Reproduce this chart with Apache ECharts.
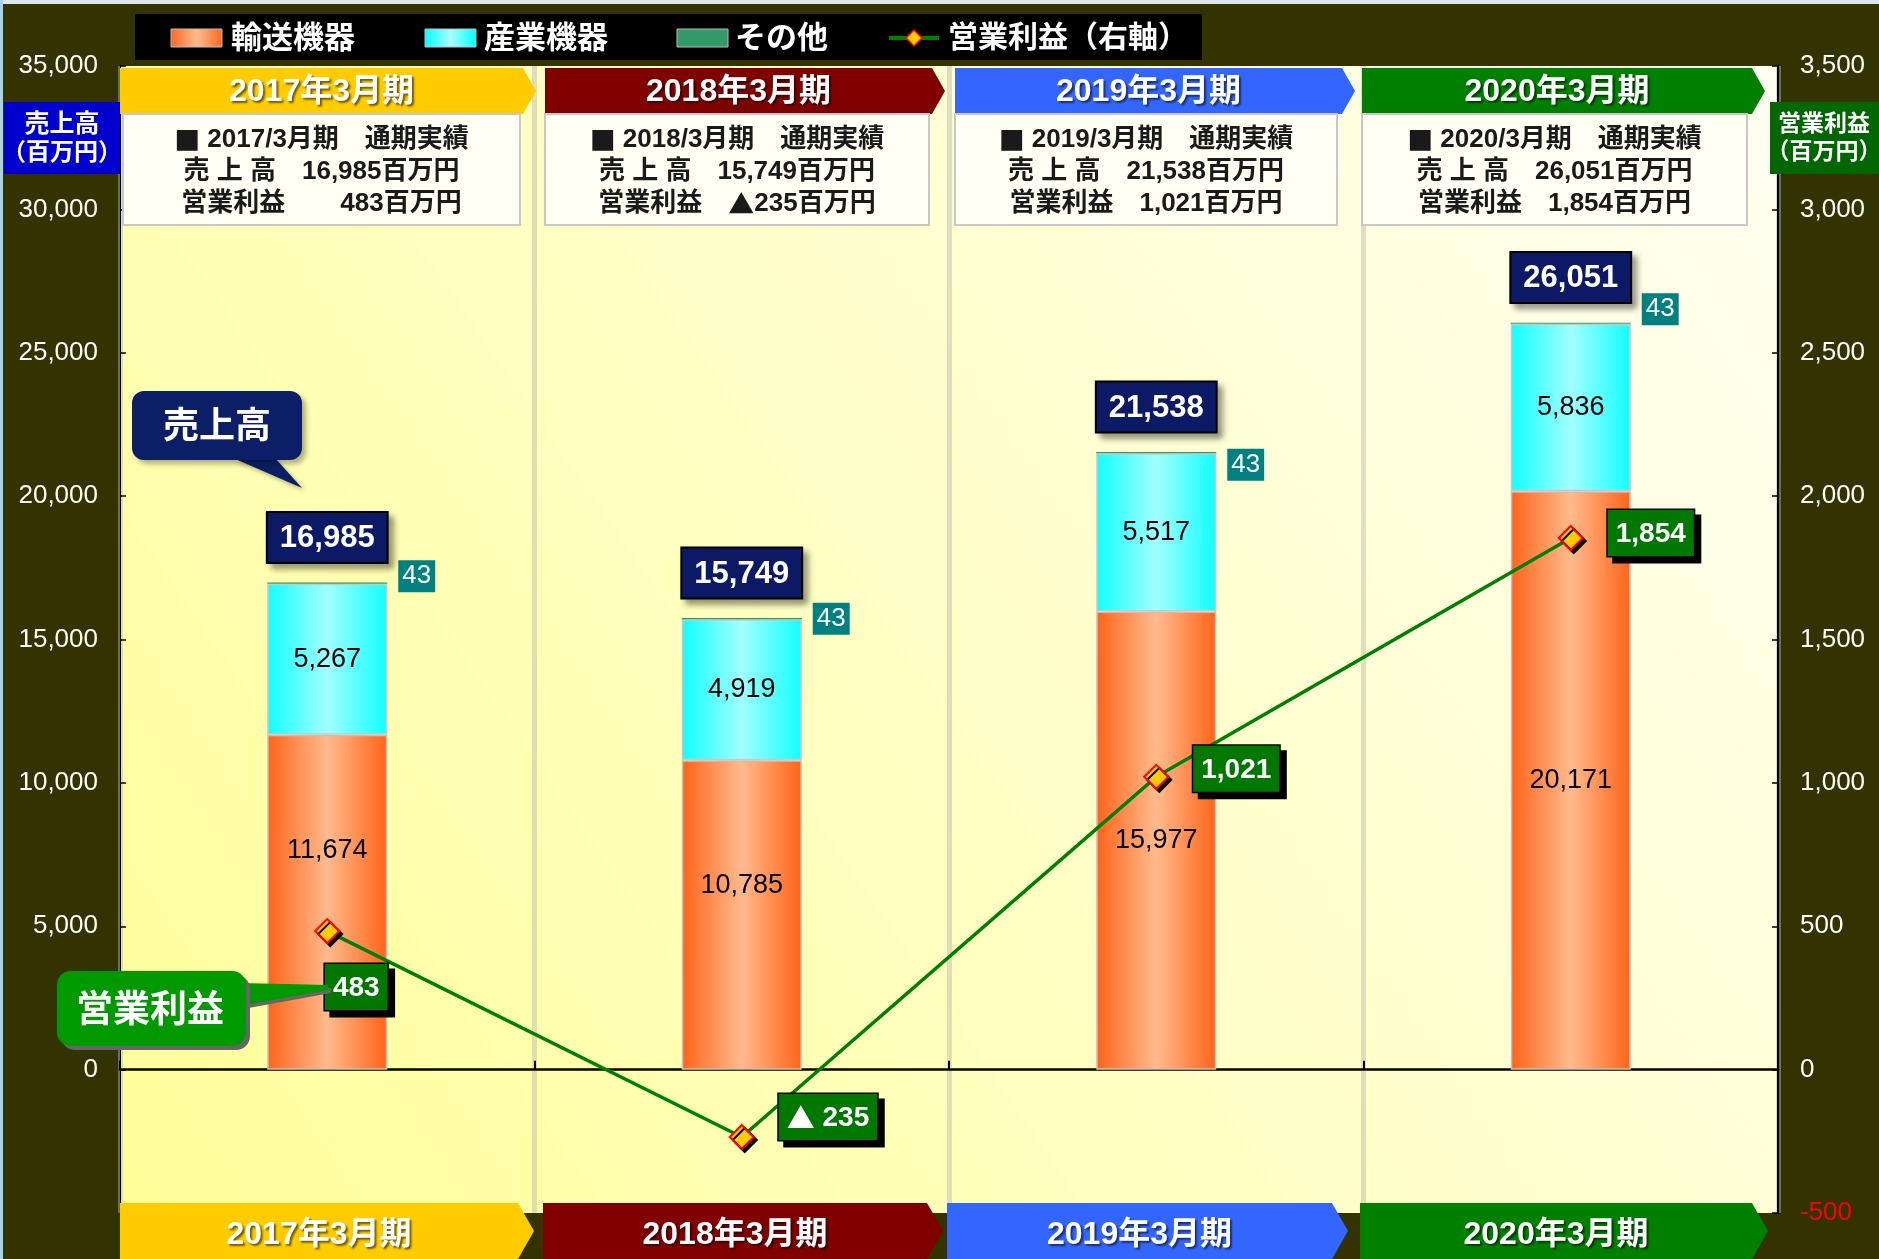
<!DOCTYPE html>
<html>
<head>
<meta charset="utf-8">
<script src="https://cdn.jsdelivr.net/npm/echarts@6/dist/echarts.min.js"></script>
<style>
html,body{margin:0;padding:0;background:#333300;}
#chart{width:1879px;height:1259px;}
</style>
</head>
<body>
<div id="chart"></div>
<script>
// ---- data ----
const categories = ['2017年3月期', '2018年3月期', '2019年3月期', '2020年3月期'];
const periodLabels = ['2017/3月期', '2018/3月期', '2019/3月期', '2020/3月期'];
const transport = [11674, 10785, 15977, 20171];   // 輸送機器
const industrial = [5267, 4919, 5517, 5836];      // 産業機器
const others = [43, 43, 43, 43];                  // その他
const totals = [16985, 15749, 21538, 26051];      // 売上高
const profit = [483, -235, 1021, 1854];           // 営業利益
const leftTicks = { min: -5000, max: 35000, interval: 5000 };
const rightTicks = { min: -500, max: 3500, interval: 500 };

// ---- layout / style (not data) ----
const bannerColors = ['#ffcc00', '#800000', '#3366ff', '#008000'];
const topBanners = [[120, 536], [545, 945], [955, 1355], [1362, 1765]];
const bottomBanners = [[120, 534], [543, 943], [947, 1348], [1360, 1768]];
const infoBoxes = [[123, 520], [545, 929], [955, 1337], [1362, 1747]];
const transportLabelOffsets = [[0, -52], [0, -29], [0, 0], [0, 0]];
const otherLabelOffsets = [[0, -7], [0, 0], [0, 12], [0, -14]];
const FONT = '"Liberation Sans", Arial, "Noto Sans CJK JP", sans-serif';
const CJK = '"Noto Sans CJK JP", sans-serif';

const fmt = v => v.toLocaleString('en-US');

const chart = echarts.init(document.getElementById('chart'), null, { renderer: 'canvas' });

const graphics = [];
// outer frame lines
graphics.push({ type: 'rect', shape: { x: 0, y: 0, width: 1879, height: 4 }, style: { fill: '#dfe6ea' }, z: 100 });
graphics.push({ type: 'rect', shape: { x: 0, y: 0, width: 3, height: 1259 }, style: { fill: '#a9d2ea' }, z: 100 });

function chevron(x0, x1, y0, y1, tipY, cut) {
  return [[x0, y0], [x1 - cut, y0], [x1, tipY], [x1 - cut, y1], [x0, y1]];
}

function txt(text, x, y, size, color, weight, extra) {
  return {
    type: 'text', z: 120,
    style: Object.assign({
      text: text, x: x, y: y, fill: color, fontSize: size, fontWeight: weight || 'bold',
      fontFamily: FONT, align: 'center', verticalAlign: 'middle'
    }, extra || {})
  };
}
const symRich = size => ({ s: { fontFamily: CJK, fontSize: size, fontWeight: 'bold', fill: '#1a1a1a' } });

// top & bottom banners, info boxes
categories.forEach((c, i) => {
  const [tx0, tx1] = topBanners[i];
  graphics.push({ type: 'polygon', z: 110, shape: { points: chevron(tx0, tx1, 68, 114, 91, 13) }, style: { fill: bannerColors[i] } });
  graphics.push(txt(c, (tx0 + tx1 - 13) / 2, 92, 32, '#fff', 'bold', { textShadowColor: 'rgba(0,0,0,0.55)', textShadowOffsetX: 2, textShadowOffsetY: 2, textShadowBlur: 2 }));

  const [bx0, bx1] = bottomBanners[i];
  graphics.push({ type: 'polygon', z: 110, shape: { points: chevron(bx0, bx1, 1203, 1259, 1231, 16) }, style: { fill: bannerColors[i] } });
  graphics.push(txt(c, (bx0 + bx1 - 16) / 2, 1235, 32, '#fff', 'bold', { textShadowColor: 'rgba(0,0,0,0.55)', textShadowOffsetX: 2, textShadowOffsetY: 2, textShadowBlur: 2 }));

  const [ix0, ix1] = infoBoxes[i];
  graphics.push({ type: 'rect', z: 112, shape: { x: ix0, y: 114, width: ix1 - ix0, height: 111 },
    style: { fill: '#fffff4', stroke: '#c8c8c8', lineWidth: 2 } });
  const cx = (ix0 + ix1) / 2;
  graphics.push(txt('{s|■} ' + periodLabels[i] + '\u3000通期実績', cx, 140, 26, '#1a1a1a', 'bold', { rich: symRich(26) }));
  graphics.push(txt('売 上 高\u3000' + fmt(totals[i]) + '百万円', cx, 172, 26, '#1a1a1a'));
  const p = profit[i];
  const pStr = p < 0 ? '{s|▲}' + fmt(-p) : '\u2007'.repeat(Math.max(0, 5 - fmt(p).length)) + fmt(p);
  graphics.push(txt('営業利益\u3000' + pStr + '百万円', cx, 204, 26, '#1a1a1a', 'bold', { rich: symRich(26) }));
});

// axis title boxes
graphics.push({ type: 'rect', z: 115, shape: { x: 4, y: 102, width: 116, height: 72 }, style: { fill: '#0000cc' } });
graphics.push(txt('売上高', 62, 125, 25, '#fff'));
graphics.push(txt('（百万円）', 62, 153, 24, '#fff'));
graphics.push({ type: 'rect', z: 115, shape: { x: 1770, y: 102, width: 109, height: 72 }, style: { fill: '#006600' } });
graphics.push(txt('営業利益', 1824, 125, 23, '#fff'));
graphics.push(txt('（百万円）', 1824, 153, 23, '#fff'));

// legend
graphics.push({ type: 'rect', z: 110, shape: { x: 135, y: 14, width: 1067, height: 46 }, style: { fill: '#000' } });
graphics.push({ type: 'rect', z: 111, shape: { x: 171, y: 29, width: 51, height: 18 },
  style: { stroke: '#bbb', lineWidth: 1, fill: new echarts.graphic.LinearGradient(0, 0, 1, 0, [{ offset: 0, color: '#ff6622' }, { offset: 0.5, color: '#ffbb8c' }, { offset: 1, color: '#ff6622' }]) } });
graphics.push(txt('輸送機器', 231, 39, 31, '#fff', 'bold', { align: 'left' }));
graphics.push({ type: 'rect', z: 111, shape: { x: 425, y: 29, width: 51, height: 18 },
  style: { stroke: '#bbb', lineWidth: 1, fill: new echarts.graphic.LinearGradient(0, 0, 1, 0, [{ offset: 0, color: '#00ffff' }, { offset: 0.5, color: '#aaffff' }, { offset: 1, color: '#00ffff' }]) } });
graphics.push(txt('産業機器', 484, 39, 31, '#fff', 'bold', { align: 'left' }));
graphics.push({ type: 'rect', z: 111, shape: { x: 677, y: 29, width: 51, height: 18 }, style: { fill: '#339966', stroke: '#bbb', lineWidth: 1 } });
graphics.push(txt('その他', 735, 39, 31, '#fff', 'bold', { align: 'left' }));
graphics.push({ type: 'line', z: 111, shape: { x1: 889, y1: 38, x2: 939, y2: 38 }, style: { stroke: '#008000', lineWidth: 4 } });
graphics.push({ type: 'polygon', z: 112, shape: { points: [[914, 30], [922, 38], [914, 46], [906, 38]] }, style: { fill: '#ffcc00', stroke: '#ff0000', lineWidth: 1.5 } });
graphics.push(txt('営業利益（右軸）', 948, 39, 30, '#fff', 'bold', { align: 'left' }));

// callout 売上高
graphics.push({ type: 'polygon', z: 113, shape: { points: [[233, 458], [275, 458], [302, 488]] },
  style: { fill: '#0c1f66', shadowColor: 'rgba(0,0,0,0.3)', shadowBlur: 4, shadowOffsetX: 3, shadowOffsetY: 3 } });
graphics.push({ type: 'rect', z: 113, shape: { x: 132, y: 391, width: 170, height: 69, r: 12 },
  style: { fill: '#0c1f66', shadowColor: 'rgba(0,0,0,0.3)', shadowBlur: 5, shadowOffsetX: 4, shadowOffsetY: 4 } });
graphics.push(txt('売上高', 217, 428, 36, '#fff'));

// callout 営業利益
graphics.push({ type: 'polygon', z: 113, shape: { points: [[240, 983], [328, 985], [328, 990], [240, 1006]] },
  style: { fill: '#009900', shadowColor: '#666', shadowOffsetX: 3, shadowOffsetY: 3 } });
graphics.push({ type: 'rect', z: 113, shape: { x: 57, y: 971, width: 189, height: 75, r: 14 },
  style: { fill: '#009900', shadowColor: '#666', shadowOffsetX: 4, shadowOffsetY: 4 } });
graphics.push(txt('営業利益', 150, 1012, 37, '#fff'));

const barGradOrange = new echarts.graphic.LinearGradient(0, 0, 1, 0, [
  { offset: 0, color: '#ff6418' }, { offset: 0.5, color: '#ffba8e' }, { offset: 1, color: '#ff6418' }]);
const barGradCyan = new echarts.graphic.LinearGradient(0, 0, 1, 0, [
  { offset: 0, color: '#10ffff' }, { offset: 0.5, color: '#a2ffff' }, { offset: 1, color: '#10ffff' }]);

const option = {
  backgroundColor: '#333300',
  animation: false,
  textStyle: { fontFamily: FONT },
  grid: {
    left: 120, right: 101, top: 66, bottom: 46, show: true, borderWidth: 0,
    backgroundColor: new echarts.graphic.LinearGradient(0, 1, 1, 0, [
      { offset: 0, color: '#ffff99' }, { offset: 0.55, color: '#ffffcc' }, { offset: 1, color: '#fffff2' }])
  },
  xAxis: {
    type: 'category', data: categories,
    axisLine: { onZero: true, lineStyle: { color: '#000', width: 2.5 } },
    axisTick: { show: true, inside: true, length: 9, lineStyle: { color: '#000', width: 2 } },
    axisLabel: { show: false },
    splitLine: { show: true, lineStyle: { color: 'rgba(185,185,165,0.45)', width: 5 } }
  },
  yAxis: [{
    type: 'value', min: leftTicks.min, max: leftTicks.max, interval: leftTicks.interval,
    axisLine: { show: true, lineStyle: { color: '#000', width: 1 } },
    axisTick: { show: true, inside: true, length: 6, lineStyle: { color: '#000', width: 1.5 } },
    splitLine: { show: false },
    axisLabel: { color: '#fff', fontSize: 26, margin: 22, fontFamily: FONT,
      formatter: v => v < 0 ? '' : fmt(v) }
  }, {
    type: 'value', position: 'right', min: rightTicks.min, max: rightTicks.max, interval: rightTicks.interval,
    axisLine: { show: true, lineStyle: { color: '#000', width: 2 } },
    axisTick: { show: true, inside: true, length: 6, lineStyle: { color: '#000', width: 1.5 } },
    splitLine: { show: false },
    axisLabel: { color: '#fff', fontSize: 26, margin: 22, fontFamily: FONT,
      formatter: v => v < 0 ? '{r|' + v + '}' : fmt(v),
      rich: { r: { color: '#ff0000', fontSize: 26, fontFamily: FONT } } }
  }],
  series: [{
    name: '輸送機器', type: 'bar', stack: 'sales', barWidth: 120,
    itemStyle: { color: barGradOrange, borderColor: '#c8c0c0', borderWidth: 1.5 },
    label: { show: true, position: 'inside', color: '#000', fontSize: 27, fontFamily: FONT, formatter: p => fmt(p.value) },
    data: transport.map((v, i) => ({ value: v, label: { offset: transportLabelOffsets[i] } })),
    z: 2
  }, {
    name: '産業機器', type: 'bar', stack: 'sales', barWidth: 120,
    itemStyle: { color: barGradCyan, borderColor: '#c8c8c8', borderWidth: 1.5 },
    label: { show: true, position: 'inside', color: '#000', fontSize: 27, fontFamily: FONT, formatter: p => fmt(p.value) },
    data: industrial,
    z: 2
  }, {
    name: 'その他', type: 'bar', stack: 'sales', barWidth: 120,
    itemStyle: { color: '#339966' },
    label: { show: true, position: 'right', distance: 11, color: '#fff', fontSize: 26, fontFamily: FONT,
      backgroundColor: '#008080', padding: [4, 4, 2, 4], formatter: p => fmt(p.value) },
    data: others.map((v, i) => ({ value: v, label: { offset: otherLabelOffsets[i] } })),
    z: 2
  }, {
    name: '売上高', type: 'line', silent: true,
    symbol: 'circle', symbolSize: 1, showSymbol: true,
    lineStyle: { width: 0, opacity: 0 },
    itemStyle: { color: 'rgba(0,0,0,0)', opacity: 1 },
    label: { show: true, position: 'top', distance: 20, color: '#fff', fontSize: 31, fontWeight: 'bold', fontFamily: FONT,
      backgroundColor: '#0c1a66', borderColor: '#000', borderWidth: 2, padding: [10, 12, 8, 12],
      shadowColor: 'rgba(0,0,0,0.35)', shadowBlur: 6, shadowOffsetX: 5, shadowOffsetY: 5,
      formatter: p => fmt(p.value) },
    data: totals,
    z: 5
  }, {
    name: '営業利益', type: 'line', yAxisIndex: 1,
    symbol: 'diamond', symbolSize: 24,
    lineStyle: { color: '#008000', width: 3.5 },
    itemStyle: { color: '#ffcc00', borderColor: '#ff0000', borderWidth: 2,
      shadowColor: '#000', shadowOffsetX: 3, shadowOffsetY: 3, shadowBlur: 0 },
    label: { show: true, position: 'right', distance: 24, color: '#fff', fontSize: 28, fontWeight: 'bold', fontFamily: FONT,
      backgroundColor: '#007800', borderColor: '#000', borderWidth: 1.5, padding: [10, 8, 8, 8],
      shadowColor: '#000', shadowBlur: 0, shadowOffsetX: 6, shadowOffsetY: 6,
      rich: { t: { fontFamily: CJK, fontSize: 28, color: '#fff', fontWeight: 'bold' } },
      formatter: p => p.value < 0 ? '{t|▲} ' + fmt(-p.value) : fmt(p.value) },
    data: profit.map((v, i) => {
      if (i === 0) return { value: v, label: { position: 'bottom', distance: 20, offset: [29, 0] } };
      const dy = [0, -20, -8, -5][i];
      return { value: v, label: { offset: [0, dy] } };
    }),
    z: 6
  }],
  graphic: graphics
};

chart.setOption(option);
</script>
</body>
</html>
